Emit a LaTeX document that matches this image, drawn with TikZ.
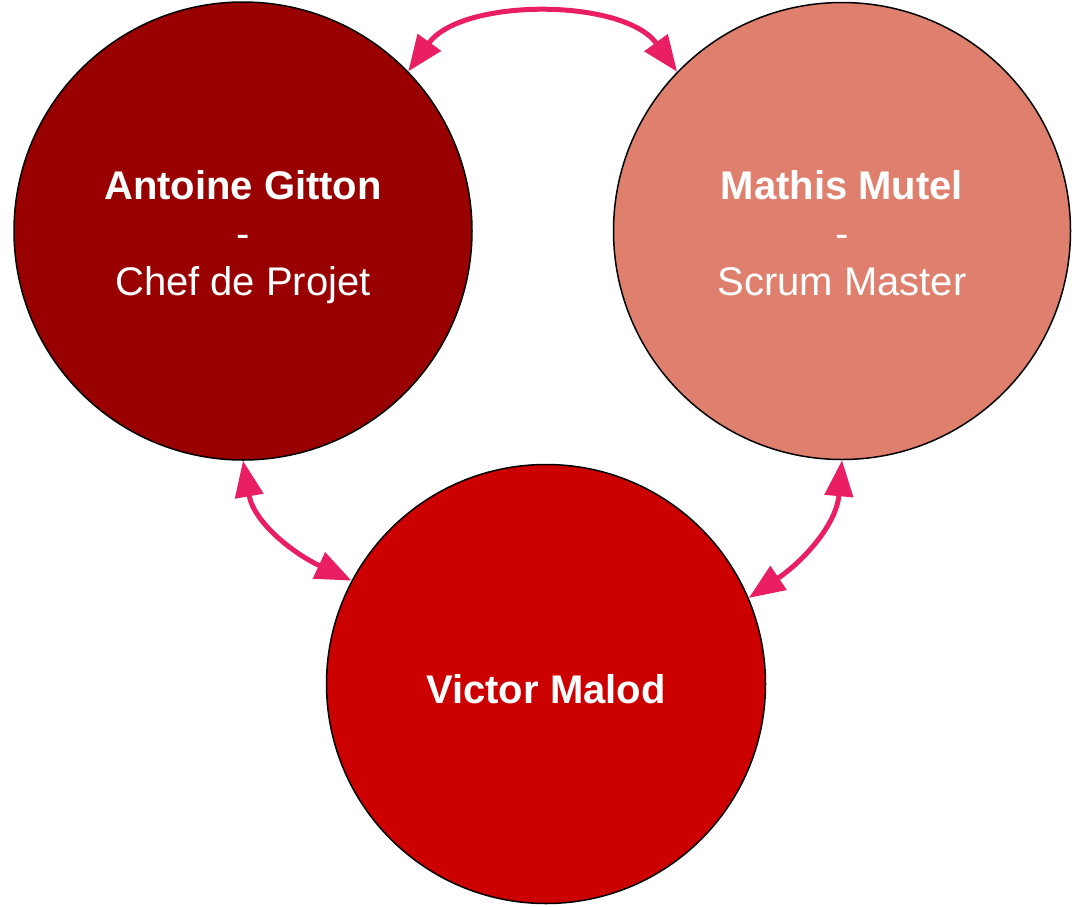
\documentclass[tikz,border=0pt]{standalone}
\usepackage{fontspec}
\setmainfont{Liberation Sans}
\usetikzlibrary{arrows.meta}
\definecolor{darkred}{HTML}{990000}
\definecolor{salmon}{HTML}{DF806E}
\definecolor{midred}{HTML}{CC0000}
\definecolor{pinkarrow}{HTML}{E91E63}
\begin{document}
\begin{tikzpicture}[x=1pt,y=-1pt,
  person/.style={circle,draw=black,line width=1.5pt,inner sep=0pt,minimum size=#1},
  nametext/.style={text=white,align=center,inner sep=0pt,font=\fontsize{40}{48}\selectfont},
  link/.style={draw=pinkarrow,line width=5pt,
    {Triangle[length=36pt,width=28pt]}-{Triangle[length=36pt,width=28pt]}}]
\useasboundingbox (0,0) rectangle (1076,906);
\node[person=458pt,fill=darkred] (A) at (243,231) {};
\node[person=457pt,fill=salmon] (M) at (842,231) {};
\node[person=439pt,fill=midred] (V) at (546,684) {};
\node[nametext] (At) at ([yshift=-6pt]A.center) {\textbf{Antoine Gitton}\\-\\Chef de Projet};
\node[nametext] (Mt) at ([yshift=-2pt]M.center) {\textbf{Mathis Mutel}\\-\\Scrum Master};
\node[nametext] (Vt) at ([yshift=-5pt]V.center) {\textbf{Victor Malod}};
\draw[link] (A.44) to[out=54,in=126,looseness=0.87] (M.136);
\draw[link] (A.south) to[out=-80,in=155] (V.152);
\draw[link] (M.south) to[out=-95,in=34] (V.23);
\end{tikzpicture}
\end{document}
